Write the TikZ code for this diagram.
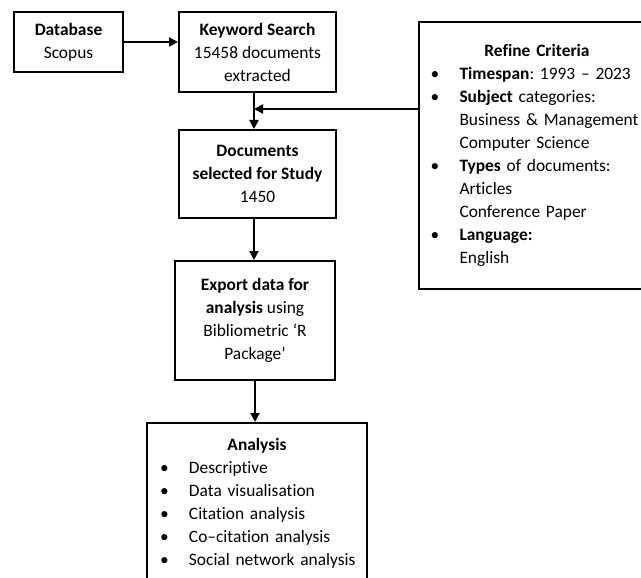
\documentclass[tikz,border=0pt]{standalone}
\usepackage{fontspec}
\setmainfont{Carlito}[Ligatures={NoCommon}]
\usetikzlibrary{arrows.meta}

\newcommand{\itm}[1]{\mbox{\makebox[29pt][l]{\textbullet}#1}}
\newcommand{\cnt}[1]{\mbox{\hspace*{29pt}#1}}

\begin{document}
\frenchspacing
\begin{tikzpicture}[x=1pt,y=-1pt,
  box/.style={draw,line width=2pt,align=center,inner sep=0pt,
    font=\fontsize{17.4}{23}\selectfont\frenchspacing},
  arr/.style={line width=2pt,-{Triangle[length=9pt,width=9pt]}}]
\useasboundingbox (0,0) rectangle (641,578);
\clip (0,0) rectangle (641,578);

% left column
\node[box,minimum width=109,minimum height=60] (db) at (68.5,42) {\textbf{Database}\\Scopus};
\node[box,minimum width=157,minimum height=80] (kw) at (257.5,52) {\textbf{Keyword Search}\\15458 documents\\extracted};
\node[box,minimum width=157,minimum height=88] (docs) at (257.5,174) {\textbf{Documents}\\\textbf{selected for Study}\\1450};
\node[box,minimum width=160,minimum height=119] (exp) at (255,320.5) {\textbf{Export data for}\\\textbf{analysis} using\\Bibliometric ‘R\\Package’};

% criteria box
\node[box,align=left,text width=213,minimum width=236,minimum height=267] (ref) at (537,155.5) {%
\makebox[213pt]{\textbf{Refine Criteria}}\\
\itm{\textbf{Timespan}: 1993 – 2023}\\
\itm{\textbf{Subject} categories:}\\
\cnt{Business \& Management}\\
\cnt{Computer Science}\\
\itm{\textbf{Types} of documents:}\\
\cnt{Articles}\\
\cnt{Conference Paper}\\
\itm{\textbf{Language:}}\\
\cnt{English}};

% analysis box
\node[box,align=left,text width=194,minimum width=220,inner ysep=15pt,anchor=north] (ana) at (257,422) {%
\makebox[194pt]{\textbf{Analysis}}\\
\itm{Descriptive}\\
\itm{Data visualisation}\\
\itm{Citation analysis}\\
\itm{Co–citation analysis}\\
\itm{Social network analysis}};

% arrows
\coordinate (join) at (254,109);
\draw[arr] (db.east) -- (db.east -| kw.west);
\draw[arr] (kw.south -| join) -- (docs.north -| join);
\draw[arr] (ref.west |- join) -- (join);
\draw[arr] (docs.south -| join) -- (exp.north -| join);
\draw[arr] (exp.south) -- (exp.south |- ana.north);

\end{tikzpicture}
\end{document}
